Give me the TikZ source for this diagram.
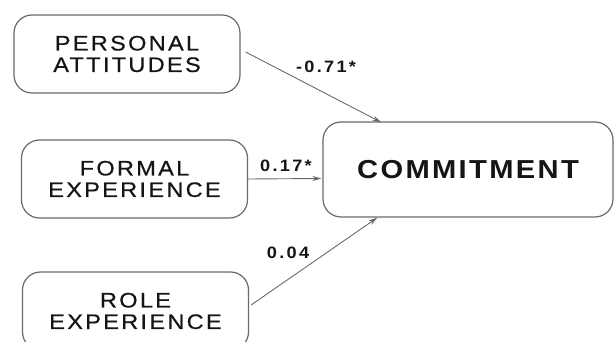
\documentclass[tikz,border=0pt]{standalone}
\usepackage{fontspec}
\usetikzlibrary{calc,arrows.meta}
\newfontfamily\boxfont[FakeStretch=1.12,LetterSpace=11,FakeBold=0.6]{Liberation Sans}
\newfontfamily\labelfont[FakeStretch=1.1,LetterSpace=14]{Liberation Sans Bold}
\newfontfamily\mainfont[FakeStretch=1.12,LetterSpace=9]{Liberation Sans Bold}
\definecolor{edge}{HTML}{6A6A6A}
\definecolor{ink}{HTML}{151515}
\begin{document}
\begin{tikzpicture}[x=1pt,y=-1pt,
  factor/.style={draw=edge,line width=1.2pt,rounded corners=18pt,
    minimum width=226pt,minimum height=78pt,align=center,text=ink,
    inner sep=0pt,font=\boxfont\fontsize{21}{21.5}\selectfont},
  outcome/.style={draw=edge,line width=1.2pt,rounded corners=18pt,
    minimum width=290pt,minimum height=95pt,align=center,text=ink,
    inner sep=0pt,font=\mainfont\fontsize{26}{28}\selectfont},
  path/.style={draw=edge,line width=0.9pt,-{Stealth[length=9pt,width=5pt]}},
  coef/.style={text=ink,inner sep=0pt,font=\labelfont\fontsize{16.5}{16.5}\selectfont}]
  \useasboundingbox (0,0) rectangle (614,342);
  % predictor boxes
  \node[factor] (pa) at (127,54) {PERSONAL\\ATTITUDES};
  \node[factor] (fe) at (134.5,179) {FORMAL\\EXPERIENCE};
  \node[factor] (re) at (135.5,311) {ROLE\\EXPERIENCE};
  % outcome box
  \node[outcome] (cm) at (468,169.5) {COMMITMENT};
  % arrow targets on the outcome box
  \coordinate (t1) at ($(cm.north west)+(59,1)$);
  \coordinate (t3) at ($(cm.south west)+(55,0)$);
  % paths
  \draw[path] ($(pa.east)+(5,-2)$) -- (t1);
  \draw[path] (fe.east) -- ($(cm.west)+(-1,9)$);
  \draw[path] ($(re.east)+(2,-6)$) -- (t3);
  % path coefficients
  \node[coef] (c1) at (326,67) {-0.71*};
  \node[coef] (c2) at (286,166) {0.17*};
  \node[coef] (c3) at (288,252.5) {0.04};
\end{tikzpicture}
\end{document}
